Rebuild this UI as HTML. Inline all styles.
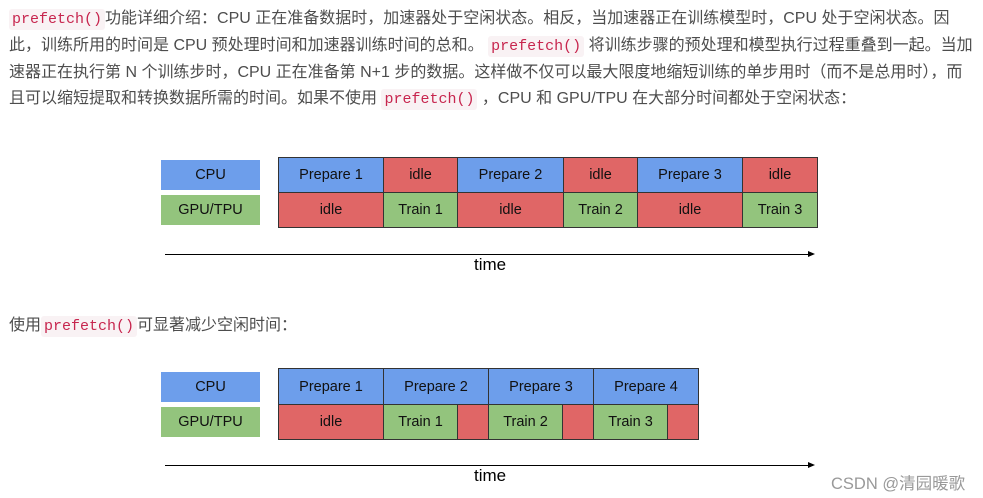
<!DOCTYPE html>
<html><head><meta charset="utf-8"><style>
body{margin:0;width:983px;height:498px;background:#fff;position:relative;overflow:hidden;font-family:"Liberation Sans","Noto Sans CJK SC",sans-serif;}
.t{position:absolute;left:9px;white-space:nowrap;font-size:16px;color:#4d4d4d;line-height:20px;}
code{font-family:"Liberation Mono","DejaVu Sans Mono",monospace;color:#c7254e;background:#f9f2f4;border-radius:3px;padding:2px 3px;font-size:15px;}
.b{position:absolute;box-sizing:border-box;display:flex;align-items:center;justify-content:center;font-size:14.5px;color:#111;}
.bl{background:#6d9eeb}.rd{background:#e06666}.gr{background:#93c47d}
.g .b{border:1px solid #333;}
.ar{position:absolute;height:1px;background:#000;}
.ar:after{content:"";position:absolute;right:-2px;top:-3px;border-left:7px solid #000;border-top:3.5px solid transparent;border-bottom:3.5px solid transparent;}
.time{position:absolute;font-size:17px;color:#000;}
</style></head><body>
<div class="t" style="top:9px"><code>prefetch()</code>功能详细介绍：CPU 正在准备数据时，加速器处于空闲状态。相反，当加速器正在训练模型时，CPU 处于空闲状态。因</div>
<div class="t" style="top:36px">此，训练所用的时间是 CPU 预处理时间和加速器训练时间的总和。 <code>prefetch()</code> 将训练步骤的预处理和模型执行过程重叠到一起。当加</div>
<div class="t" style="top:63px">速器正在执行第 N 个训练步时，CPU 正在准备第 N+1 步的数据。这样做不仅可以最大限度地缩短训练的单步用时（而不是总用时），而</div>
<div class="t" style="top:89px">且可以缩短提取和转换数据所需的时间。如果不使用 <code>prefetch()</code> ，CPU 和 GPU/TPU 在大部分时间都处于空闲状态：</div>

<div class="b bl" style="left:161px;top:160px;width:99px;height:30px">CPU</div>
<div class="b gr" style="left:161px;top:195px;width:99px;height:30px">GPU/TPU</div>
<div class="g">
<div class="b bl" style="left:278px;top:157px;width:106px;height:36px">Prepare 1</div>
<div class="b rd" style="left:383px;top:157px;width:75px;height:36px">idle</div>
<div class="b bl" style="left:457px;top:157px;width:107px;height:36px">Prepare 2</div>
<div class="b rd" style="left:563px;top:157px;width:75px;height:36px">idle</div>
<div class="b bl" style="left:637px;top:157px;width:106px;height:36px">Prepare 3</div>
<div class="b rd" style="left:742px;top:157px;width:76px;height:36px">idle</div>
<div class="b rd" style="left:278px;top:192px;width:106px;height:36px">idle</div>
<div class="b gr" style="left:383px;top:192px;width:75px;height:36px">Train 1</div>
<div class="b rd" style="left:457px;top:192px;width:107px;height:36px">idle</div>
<div class="b gr" style="left:563px;top:192px;width:75px;height:36px">Train 2</div>
<div class="b rd" style="left:637px;top:192px;width:106px;height:36px">idle</div>
<div class="b gr" style="left:742px;top:192px;width:76px;height:36px">Train 3</div>
</div>
<div class="ar" style="left:165px;top:254px;width:648px"></div>
<div class="time" style="left:474px;top:255px">time</div>

<div class="t" style="top:316px">使用<code>prefetch()</code>可显著减少空闲时间：</div>

<div class="b bl" style="left:161px;top:372px;width:99px;height:30px">CPU</div>
<div class="b gr" style="left:161px;top:407px;width:99px;height:30px">GPU/TPU</div>
<div class="g">
<div class="b bl" style="left:278px;top:368px;width:106px;height:37px">Prepare 1</div>
<div class="b bl" style="left:383px;top:368px;width:106px;height:37px">Prepare 2</div>
<div class="b bl" style="left:488px;top:368px;width:106px;height:37px">Prepare 3</div>
<div class="b bl" style="left:593px;top:368px;width:106px;height:37px">Prepare 4</div>
<div class="b rd" style="left:278px;top:404px;width:106px;height:36px">idle</div>
<div class="b gr" style="left:383px;top:404px;width:75px;height:36px">Train 1</div>
<div class="b rd" style="left:457px;top:404px;width:32px;height:36px"></div>
<div class="b gr" style="left:488px;top:404px;width:75px;height:36px">Train 2</div>
<div class="b rd" style="left:562px;top:404px;width:32px;height:36px"></div>
<div class="b gr" style="left:593px;top:404px;width:75px;height:36px">Train 3</div>
<div class="b rd" style="left:667px;top:404px;width:32px;height:36px"></div>
</div>
<div class="ar" style="left:165px;top:465px;width:648px"></div>
<div class="time" style="left:474px;top:466px">time</div>
<div style="position:absolute;left:831px;top:470px;font-size:16.5px;color:#999;white-space:nowrap">CSDN @清园暖歌</div>
</body></html>
